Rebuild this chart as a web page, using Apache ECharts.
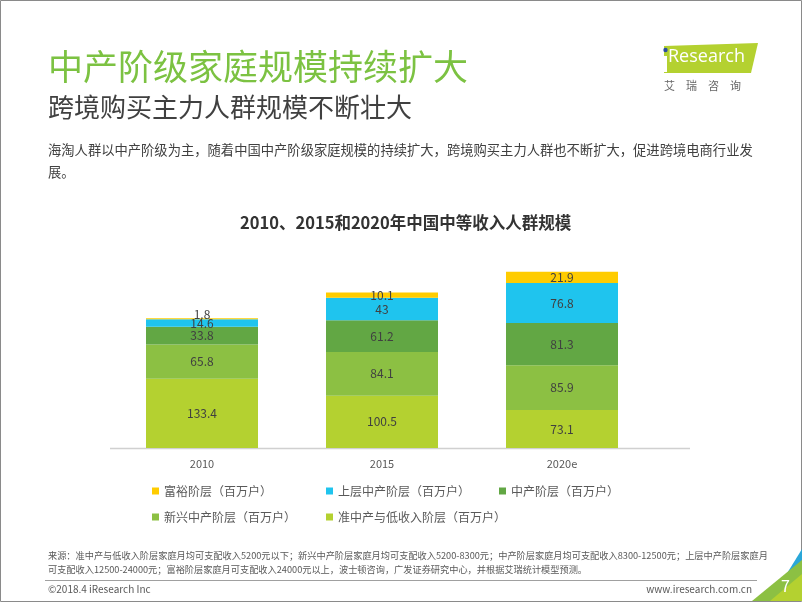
<!DOCTYPE html>
<html><head><meta charset="utf-8">
<script src="https://cdn.jsdelivr.net/npm/echarts@6/dist/echarts.min.js"></script>
<style>html,body{margin:0;padding:0;background:#fff}#c{width:802px;height:602px}</style>
</head><body><div id="c"></div>
<script>
const categories = ['2010', '2015', '2020e'];
const seriesNames = ['准中产与低收入阶层（百万户）', '新兴中产阶层（百万户）', '中产阶层（百万户）', '上层中产阶层（百万户）', '富裕阶层（百万户）'];
const lowIncome = [133.4, 100.5, 73.1];
const emergingMiddle = [65.8, 84.1, 85.9];
const middle = [33.8, 61.2, 81.3];
const upperMiddle = [14.6, 43, 76.8];
const affluent = [1.8, 10.1, 21.9];
const colors = ['#b4d130', '#8cc043', '#62a744', '#1fc4ee', '#ffcc00'];
const values = [lowIncome, emergingMiddle, middle, upperMiddle, affluent];

const FONT = '"Noto Sans CJK SC","Microsoft YaHei",sans-serif';
const chart = echarts.init(document.getElementById('c'), null, {renderer: 'canvas'});

const series = values.map((v, i) => ({
  name: seriesNames[i], type: 'bar', stack: 'total', barWidth: 112,
  data: v.map(x => x < 5 ? {value: x, label: {position: 'top', distance: -2}} : x),
  itemStyle: {color: colors[i]},
  label: {show: true, position: 'inside', fontSize: 12, color: '#404040', fontFamily: FONT},
  emphasis: {disabled: true}
}));

function lg(name, left, top) {
  return {data: [name], left: left, top: top, padding: 0, itemWidth: 7, itemHeight: 7, icon: 'rect',
    itemGap: 4, textStyle: {fontSize: 12, color: '#595959', fontFamily: FONT}, selectedMode: false};
}

const option = {
  backgroundColor: '#fff',
  animation: false,
  textStyle: {fontFamily: FONT},
  grid: {left: 112, width: 540, top: 266, height: 182},
  xAxis: {type: 'category', data: categories,
    axisLine: {show: false}, axisTick: {show: false},
    axisLabel: {fontSize: 11, color: '#595959', margin: 10, fontFamily: FONT}},
  yAxis: {type: 'value', min: 0, max: 350, show: false},
  legend: [
    lg(seriesNames[4], 152, 485),
    lg(seriesNames[3], 326, 485),
    lg(seriesNames[2], 499, 485),
    lg(seriesNames[1], 152, 511),
    lg(seriesNames[0], 326, 511)
  ],
  series: series,
  graphic: [
    {type: 'rect', shape: {x: 0.5, y: 0.5, width: 801, height: 601}, style: {fill: 'none', stroke: '#8a8a8a', lineWidth: 1}, silent: true},
    {type: 'line', shape: {x1: 110, y1: 448.5, x2: 690, y2: 448.5}, style: {stroke: '#d0d0d0', lineWidth: 1.5}},
    {type: 'text', left: 48, top: 49, style: {text: '中产阶级家庭规模持续扩大', fontSize: 35, fill: '#7cc242', fontFamily: FONT}},
    {type: 'text', left: 48, top: 94, style: {text: '跨境购买主力人群规模不断壮大', fontSize: 26, fill: '#404040', fontFamily: FONT}},
    {type: 'text', left: 48, top: 139, style: {text: '海淘人群以中产阶级为主，随着中国中产阶级家庭规模的持续扩大，跨境购买主力人群也不断扩大，促进跨境电商行业发\n展。', fontSize: 13.3, lineHeight: 22, fill: '#404040', fontFamily: FONT}},
    {type: 'text', left: 240, top: 214, style: {text: '2010、2015和2020年中国中等收入人群规模', fontSize: 16.5, fontWeight: 'bold', fill: '#333', fontFamily: FONT}},
    // logo
    {type: 'polygon', shape: {points: [[664, 46], [758, 43], [751, 73], [664, 73]]}, style: {fill: '#b4d130'}},
    {type: 'text', left: 668, top: 48, style: {text: 'Research', fontSize: 18, fill: '#fff', fontFamily: '"Open Sans",sans-serif'}},
    {type: 'rect', shape: {x: 664, y: 56, width: 3, height: 16}, style: {fill: '#fff'}},
    {type: 'circle', shape: {cx: 665.5, cy: 50, r: 2.2}, style: {fill: '#2b4fa0'}},
    {type: 'text', left: 664, top: 80, style: {text: '艾　瑞　咨　询', fontSize: 11, fill: '#666', fontFamily: FONT}},
    // footer
    {type: 'text', left: 48, top: 549, style: {text: '来源：准中产与低收入阶层家庭月均可支配收入5200元以下；新兴中产阶层家庭月均可支配收入5200-8300元；中产阶层家庭月均可支配收入8300-12500元；上层中产阶层家庭月\n可支配收入12500-24000元；富裕阶层家庭月可支配收入24000元以上，波士顿咨询，广发证券研究中心，并根据艾瑞统计模型预测。', fontSize: 9.2, lineHeight: 13.5, fill: '#595959', fontFamily: FONT}},
    {type: 'line', shape: {x1: 45, y1: 580.5, x2: 757, y2: 580.5}, style: {stroke: '#a0a0a0', lineWidth: 1}},
    {type: 'text', left: 48, top: 584, style: {text: '©2018.4 iResearch Inc', fontSize: 10, fill: '#595959', fontFamily: FONT}},
    {type: 'text', right: 50, top: 584, style: {text: 'www.iresearch.com.cn', fontSize: 10, fill: '#595959', fontFamily: FONT}},
    {type: 'polygon', shape: {points: [[770, 601], [802, 549], [802, 560], [778, 601]]}, style: {fill: '#2aa7d8'}},
    {type: 'polygon', shape: {points: [[752, 601], [802, 560], [802, 601]]}, style: {fill: '#8cc043'}},
    {type: 'polygon', shape: {points: [[770, 601], [802, 574], [802, 601]]}, style: {fill: '#b4d130'}},
    {type: 'text', left: 781, top: 578, style: {text: '7', fontSize: 16, fill: '#fff', fontFamily: FONT}}
  ]
};
chart.setOption(option);
</script></body></html>
